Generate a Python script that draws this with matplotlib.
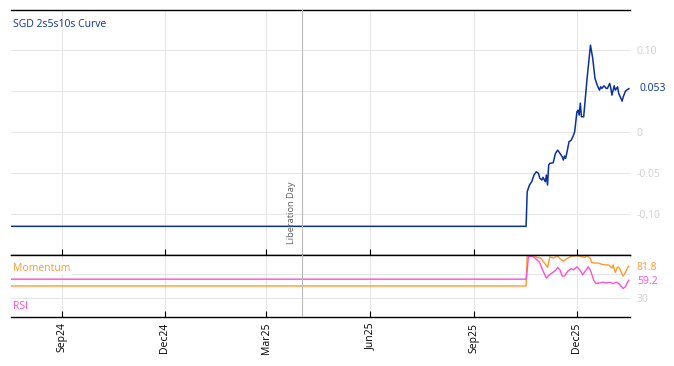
import matplotlib
matplotlib.use("Agg")
import matplotlib.pyplot as plt
import matplotlib.dates as mdates
import pandas as pd

plt.rcParams["font.family"] = ["Open Sans", "DejaVu Sans"]

# SGD 2s5s10s curve (flat history, then live prints)
curve_dates = [
    "2024-07-18", "2025-10-17", "2025-10-18", "2025-10-20", "2025-10-22", "2025-10-24",
    "2025-10-26", "2025-10-28", "2025-10-29", "2025-10-31", "2025-11-01", "2025-11-03",
    "2025-11-04", "2025-11-05", "2025-11-06", "2025-11-07", "2025-11-10", "2025-11-12",
    "2025-11-14", "2025-11-15", "2025-11-18", "2025-11-19", "2025-11-20", "2025-11-21",
    "2025-11-22", "2025-11-24", "2025-11-26", "2025-11-28", "2025-11-29", "2025-12-01",
    "2025-12-02", "2025-12-03", "2025-12-04", "2025-12-05", "2025-12-07", "2025-12-10",
    "2025-12-13", "2025-12-15", "2025-12-17", "2025-12-19", "2025-12-21", "2025-12-22",
    "2025-12-23", "2025-12-25", "2025-12-27", "2025-12-28", "2025-12-30", "2025-12-31",
    "2026-01-01", "2026-01-03", "2026-01-04", "2026-01-06", "2026-01-07", "2026-01-10",
    "2026-01-11", "2026-01-13", "2026-01-14", "2026-01-16",
]
curve_values = [
    -0.115, -0.115, -0.0728, -0.0646, -0.0606, -0.0524,
    -0.0484, -0.0504, -0.0561, -0.0585, -0.0552, -0.0606,
    -0.0524, -0.0646, -0.0402, -0.0382, -0.0374, -0.0260,
    -0.0220, -0.0240, -0.0301, -0.0341, -0.0293, -0.0321,
    -0.0260, -0.0118, -0.0098, -0.0037, 0.0004, 0.0248,
    0.0268, 0.0207, 0.0354, 0.0187, 0.0187, 0.0655,
    0.1061, 0.0899, 0.0655, 0.0573, 0.0512, 0.0552,
    0.0533, 0.0565, 0.0533, 0.0533, 0.0594, 0.0537,
    0.0451, 0.0565, 0.0512, 0.0552, 0.0472, 0.0378,
    0.0430, 0.0500, 0.0512, 0.053,
]

mom_dates = [
    "2024-07-18", "2025-10-17", "2025-10-18", "2025-10-23", "2025-10-27", "2025-10-30",
    "2025-11-01", "2025-11-04", "2025-11-05", "2025-11-07", "2025-11-10", "2025-11-14",
    "2025-11-16", "2025-11-19", "2025-11-22", "2025-11-26", "2025-12-01", "2025-12-04",
    "2025-12-06", "2025-12-08", "2025-12-10", "2025-12-13", "2025-12-14", "2025-12-17",
    "2025-12-20", "2025-12-23", "2025-12-27", "2025-12-29", "2026-01-01", "2026-01-02",
    "2026-01-04", "2026-01-06", "2026-01-08", "2026-01-10", "2026-01-11", "2026-01-13",
    "2026-01-15", "2026-01-16",
]
mom_values = [
    50, 50, 100, 100, 96, 95,
    90, 83, 80, 97, 95, 98,
    94, 90, 94, 98, 99, 98,
    97, 96, 99, 94, 88, 87,
    87, 85, 84, 84, 79, 84,
    72, 81, 78, 69, 66, 72,
    80, 81.8,
]

rsi_dates = [
    "2024-07-18", "2025-10-17", "2025-10-18", "2025-10-19", "2025-10-23", "2025-10-25",
    "2025-10-29", "2025-11-01", "2025-11-04", "2025-11-06", "2025-11-09", "2025-11-12",
    "2025-11-14", "2025-11-16", "2025-11-18", "2025-11-20", "2025-11-23", "2025-11-26",
    "2025-11-28", "2025-12-01", "2025-12-04", "2025-12-06", "2025-12-10", "2025-12-11",
    "2025-12-13", "2025-12-16", "2025-12-18", "2025-12-21", "2025-12-24", "2025-12-27",
    "2025-12-30", "2026-01-02", "2026-01-05", "2026-01-07", "2026-01-09", "2026-01-11",
    "2026-01-13", "2026-01-15", "2026-01-16",
]
rsi_values = [
    61, 61, 75, 97, 98, 95,
    88, 74, 63, 67, 71, 75,
    80, 76, 66, 66, 74, 78,
    76, 81, 75, 68, 78, 81,
    75, 59, 54, 55, 56, 55,
    56, 54, 56, 54, 50, 46,
    49, 57, 59.2,
]

event_date = "2025-04-02"
event_label = "Liberation Day"
tick_dates = ["2024-09-01", "2024-12-01", "2025-03-01", "2025-06-01", "2025-09-01", "2025-12-01"]
x_start, x_end = "2024-07-18", "2026-01-17"

blue = "#0b31a0"
orange = "#ff9a2e"
pink = "#ff4fd2"
grid_c = "#e6e6e6"
label_c = "#cfcfcf"

curve_dates = pd.to_datetime(curve_dates)
mom_dates = pd.to_datetime(mom_dates)
rsi_dates = pd.to_datetime(rsi_dates)
ticks = pd.to_datetime(tick_dates)
event = pd.Timestamp(event_date)

fig = plt.figure(figsize=(6.74, 3.66), dpi=100)
ax = fig.add_axes([11 / 674, 1 - 255 / 366, 619 / 674, 245 / 366])
ax2 = fig.add_axes([11 / 674, 1 - 317 / 366, 619 / 674, 62 / 366], sharex=ax)

# main curve panel
ax.plot(curve_dates, curve_values, color=blue, lw=1.1)
ax.set_ylim(-0.15, 0.149)
ax.set_yticks([-0.10, -0.05, 0, 0.05, 0.10])
ax.set_yticklabels(["-0.10", "-0.05", "0", "", "0.10"])
ax.axvline(event, color="#b8b8b8", lw=0.8, zorder=5)
ax.text(event - pd.Timedelta(days=10), -0.136, event_label,
        rotation=90, ha="center", va="bottom", fontsize=6.7, color="#606060")
ax.text(0.003, 0.94, "SGD 2s5s10s Curve", transform=ax.transAxes,
        fontsize=7.5, color=blue, ha="left", va="center")
ax.annotate(f"{curve_values[-1]:.3f}", xy=(1, curve_values[-1]),
            xycoords=("axes fraction", "data"), xytext=(7, 0),
            textcoords="offset points", fontsize=7.5, color=blue, va="center")

# indicator panel
ax2.plot(mom_dates, mom_values, color=orange, lw=1.0)
ax2.plot(rsi_dates, rsi_values, color=pink, lw=1.0)
ax2.axvline(event, color="#b8b8b8", lw=0.8, zorder=5)
ax2.set_ylim(0, 100)
ax2.set_yticks([30, 70])
ax2.set_yticklabels(["30", ""])
box = dict(facecolor="white", edgecolor="none", pad=1.0)
ax2.text(0.003, 0.79, "Momentum", transform=ax2.transAxes,
         fontsize=7.5, color=orange, ha="left", va="center", bbox=box)
ax2.text(0.003, 0.17, "RSI", transform=ax2.transAxes,
         fontsize=7.5, color=pink, ha="left", va="center", bbox=box)
ax2.annotate(f"{mom_values[-1]:.1f}", xy=(1, mom_values[-1]),
             xycoords=("axes fraction", "data"), xytext=(5, -1),
             textcoords="offset points", fontsize=7.5, color=orange, va="center")
ax2.annotate(f"{rsi_values[-1]:.1f}", xy=(1, rsi_values[-1]),
             xycoords=("axes fraction", "data"), xytext=(5, -1),
             textcoords="offset points", fontsize=7.5, color=pink, va="center")

for a in (ax, ax2):
    a.set_xlim(pd.Timestamp(x_start), pd.Timestamp(x_end))
    a.set_xticks(ticks)
    a.grid(True, color=grid_c, lw=0.8)
    a.set_axisbelow(True)
    a.yaxis.tick_right()
    a.tick_params(axis="y", length=0, pad=5, labelsize=7.5, labelcolor=label_c)
    for s in ("left", "right"):
        a.spines[s].set_visible(False)
    for s in ("top", "bottom"):
        a.spines[s].set_color("black")
        a.spines[s].set_linewidth(1.0)

ax.tick_params(axis="x", direction="in", length=4, labelbottom=False)
ax2.xaxis.set_major_formatter(mdates.DateFormatter("%b%y"))
ax2.tick_params(axis="x", direction="in", length=4, labelsize=7.5,
                labelrotation=90, pad=4)

fig.savefig("out.png", dpi=100)
